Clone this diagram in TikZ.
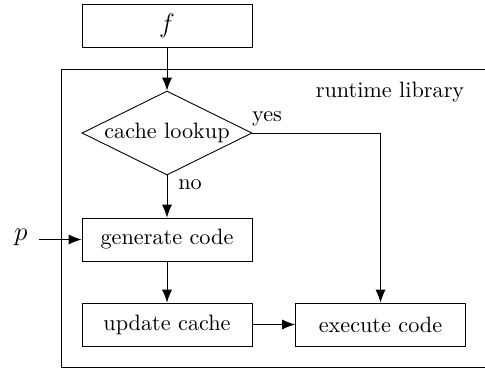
\documentclass[tikz,border=0pt]{standalone}
\usetikzlibrary{shapes.geometric,arrows.meta}
\begin{document}
\begin{tikzpicture}[x=0.45pt,y=-0.45pt,
  box/.style={draw,minimum width=76.5pt,minimum height=19.3pt,inner sep=0pt},
  decision/.style={draw,diamond,aspect=2,minimum width=76.5pt,minimum height=37.8pt,inner sep=0pt},
  arr/.style={-{Latex[length=5.8pt,width=4.5pt]}},
  lbl/.style={inner sep=0pt},
  big/.style={font=\fontsize{13}{15}\selectfont}]
\useasboundingbox (0,0) rectangle (485,370);
\node[draw,minimum width=190.8pt,minimum height=134pt,inner sep=0pt,anchor=north west] (lib) at (61,69) {};
\node[box,big] (f) at (167,26) {$f$};
\node[decision] (look) at (167,133) {cache lookup};
\node[box] (gen) at (167,239.5) {generate code};
\node[box] (upd) at (167,324.5) {update cache};
\node[box] (exe) at (380.5,324.5) {execute code};
\node[lbl,big] (p) at (21,237) {$p$};
\coordinate (pin) at (39,239.5);
\node[lbl] (rt) at (390,92) {runtime library};
\node[lbl] (yes) at (267,119) {yes};
\node[lbl] (no) at (190,185) {no};
\draw[arr] (f) -- (look);
\draw[arr] (look) -- (gen);
\draw[arr] (look.east) -| (exe.north);
\draw[arr] (pin) -- (gen);
\draw[arr] (gen) -- (upd);
\draw[arr] (upd) -- (exe);
\end{tikzpicture}
\end{document}
